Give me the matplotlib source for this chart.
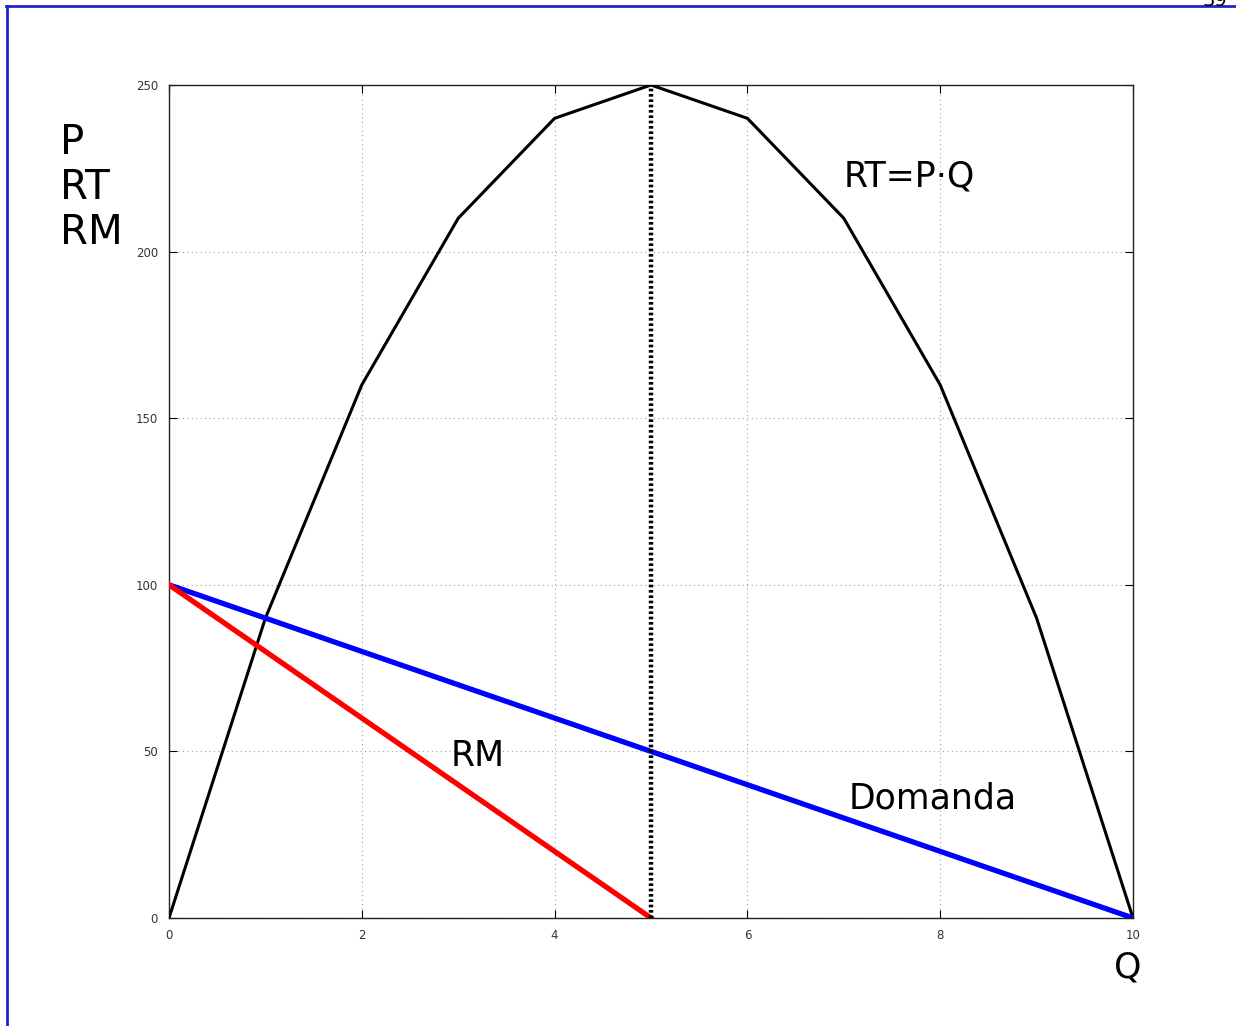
import numpy as np
import matplotlib
matplotlib.use("Agg")
import matplotlib.pyplot as plt

# data
q = [0, 1, 2, 3, 4, 5, 6, 7, 8, 9, 10]
rt = [0, 90, 160, 210, 240, 250, 240, 210, 160, 90, 0]
q_dem = [0, 10]
p_dem = [100, 0]
q_rm = [0, 5]
p_rm = [100, 0]
q_max = 5
xticks = [0, 2, 4, 6, 8, 10]
yticks = [0, 50, 100, 150, 200, 250]

fig = plt.figure(figsize=(12.36, 10.26), dpi=100)
ax = fig.add_axes([169/1236, 1 - 918/1026, 964/1236, 833/1026])

ax.plot(q, rt, color='black', lw=2.2, zorder=3)
ax.plot(q_dem, p_dem, color='#0000ff', lw=3.8, zorder=4)
ax.plot(q_rm, p_rm, color='#ff0000', lw=3.8, zorder=4)
ax.plot([q_max, q_max], [0, rt[q.index(q_max)]], color='black', lw=3.2,
        ls=(0, (0.6, 0.6)), zorder=5)

ax.set_xlim(0, 10)
ax.set_ylim(0, 250)
ax.set_xticks(xticks)
ax.set_yticks(yticks)
ax.grid(True, color='#a0a0a0', ls=(0, (1, 3)), lw=0.8)
ax.tick_params(direction='in', length=6, width=0.8, labelsize=8.5,
               labelcolor='#333333', top=True, right=True, pad=8)
for s in ax.spines.values():
    s.set_linewidth(1.0)
    s.set_color('#222222')

fig.text(60/1236, 1 - 188/1026, "P\nRT\nRM", fontsize=29, ha='left',
         va='center', linespacing=1.15)
ax.text(7.0, 222.5, "RT=P·Q", fontsize=25, ha='left', va='center')
ax.text(2.92, 48.5, "RM", fontsize=25, ha='left', va='center')
ax.text(7.05, 35.8, "Domanda", fontsize=25, ha='left', va='center')
fig.text(1128/1236, 1 - 967/1026, "Q", fontsize=25, ha='center', va='center')

# page frame and page number
fig.add_artist(plt.Line2D([6/1236, 1], [1 - 5.5/1026, 1 - 5.5/1026],
                          color='#2222cc', lw=2, transform=fig.transFigure))
fig.add_artist(plt.Line2D([6.5/1236, 6.5/1236], [0, 1 - 5.5/1026],
                          color='#2222cc', lw=2, transform=fig.transFigure))
fig.text(1215/1236, 1.0, "39", fontsize=14, ha='center', va='center')

fig.savefig("out.png", dpi=100)
